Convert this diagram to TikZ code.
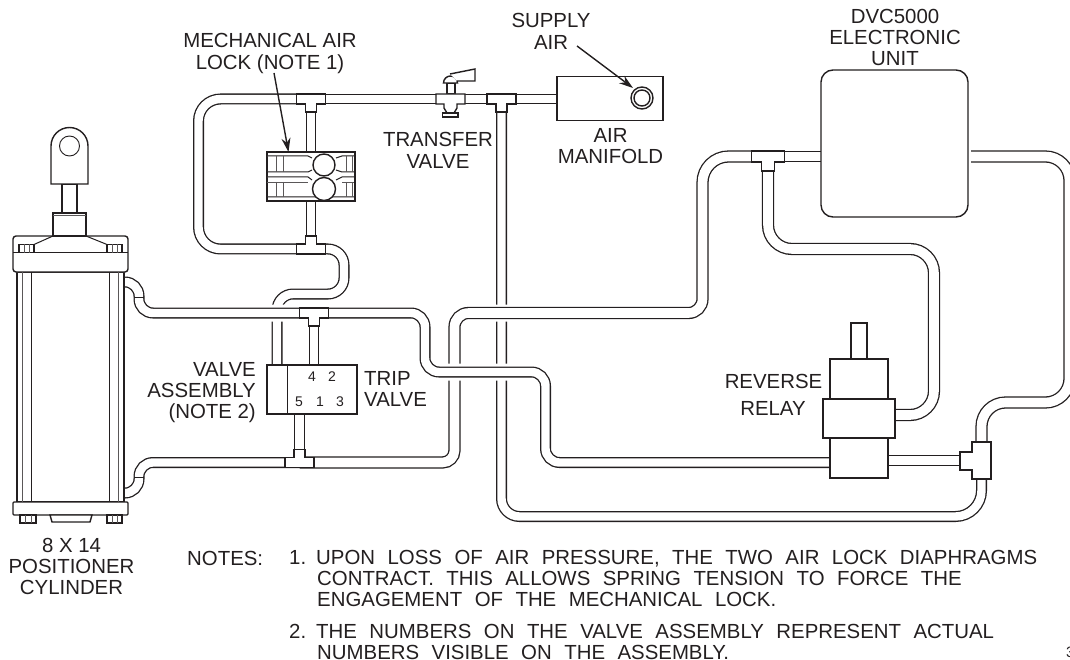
\documentclass[tikz,border=0pt]{standalone}
\usepackage{fontspec}
\setmainfont{Liberation Sans}
\newfontfamily\notefont[WordSpace=2.2]{Liberation Sans}
\usetikzlibrary{arrows.meta,positioning,calc}
\definecolor{ink}{HTML}{231F20}
\pgfdeclarelayer{fitting}
\pgfsetlayers{main,fitting}

\begin{document}
\begin{tikzpicture}[
    x=1pt, y=-1pt,
    pipe/.style={draw=ink, line width=1.3pt, double=white, double distance=8.4pt,
      preaction={draw=white, line width=17pt}},
    widepipe/.style={pipe, double distance=9.6pt},
    tube/.style={draw=ink, line width=1pt, fill=white},
    part/.style={draw=ink, line width=1.4pt, fill=white},
    thinpart/.style={draw=ink!75, line width=0.9pt},
    box/.style={part, rectangle, inner sep=0pt, outer sep=0pt},
    port/.style={part, circle, inner sep=0pt, outer sep=0pt},
    tag/.style={text=ink, align=center, inner sep=0pt, font=\fontsize{20.4}{21}\selectfont},
    notetag/.style={tag, align=left, font=\notefont\fontsize{20.4}{21}\selectfont},
    numtag/.style={tag, font=\fontsize{14}{14}\selectfont},
    pointer/.style={draw=ink, line width=1.4pt, -{Stealth[length=14pt,width=9pt]}},
    teefit/.pic={\draw[part] (-14.5,-5) -- (14.5,-5) -- (14.5,5) -- (5.5,5) -- (5.5,13)
      -- (-5.5,13) -- (-5.5,5) -- (-14.5,5) -- cycle;}
  ]
    \useasboundingbox (0,0) rectangle (1070,660);

    \coordinate (teeLockTop) at (311,99);
    \coordinate (teeLockLow) at (311,249);
    \coordinate (teeMain) at (314,313);
    \coordinate (teeReturn) at (299.5,462.5);
    \coordinate (teeTransfer) at (450.5,99);
    \coordinate (teeSupply) at (501.5,99);
    \coordinate (teeControl) at (768,156.5);
    \coordinate (teeRelay) at (981.5,460.5);
    \coordinate (portTop) at (124,282);
    \coordinate (portLow) at (124,493);
    \coordinate (portDvc) at (971,156.5);
    \coordinate (relayLeft) at (840,462.5);
    \coordinate (relayRight) at (870,460.5);
    \coordinate (lockStart) at (274,73);
    \coordinate (lockTip) at (288.5,152);
    \coordinate (supplyStart) at (577,46);
    \coordinate (supplyTip) at (633,88);

    \begin{pgfonlayer}{fitting}
    \node[box, minimum width=106pt, minimum height=44pt] (manifold) at (610,98.5) {};
    \node[port, minimum size=22pt] (supplyOuter) at (642,98) {};
    \node[port, minimum size=16pt] (supplyInner) at (642,98) {};
    \node[box, minimum width=147pt, minimum height=147pt, rounded corners=12pt] (dvc) at (894.5,143.5) {};
    \node[box, minimum width=88pt, minimum height=49pt] (airLock) at (311,176.5) {};
    \node[box, minimum width=90pt, minimum height=49pt] (valveAsm) at (312,389.5) {};

    \node[box, minimum width=72pt, minimum height=39pt] (relayMid) at (859,418.5) {};
    \node[box, minimum width=58pt, minimum height=40pt, above=0pt of relayMid] (relayTop) {};
    \node[box, minimum width=58pt, minimum height=40pt, below=0pt of relayMid] (relayLow) {};
    \node[box, minimum width=16pt, minimum height=36pt, above=0pt of relayTop] (relayRod) {};

    \node[box, minimum width=107pt, minimum height=230pt] (cylBody) at (70.5,387) {};
    \node[box, minimum width=115pt, minimum height=36pt, rounded corners=3pt] (cylHead) at (70.5,254) {};
    \node[box, minimum width=115pt, minimum height=13pt, rounded corners=1pt] (cylBase) at (70.5,508.5) {};
    \node[box, minimum width=33pt, minimum height=23pt] (cylGland) at (69.5,224.5) {};
    \node[box, minimum width=15pt, minimum height=29pt, above=0pt of cylGland] (cylRod) {};
    \node[box, minimum width=15pt, minimum height=8pt] (nutA) at (26.5,248.5) {};
    \node[box, minimum width=15pt, minimum height=8pt] (nutB) at (114.5,248.5) {};
    \node[box, minimum width=16pt, minimum height=8pt] (nutC) at (28,519) {};
    \node[box, minimum width=15pt, minimum height=8pt] (nutD) at (114.5,519) {};

    \draw[part] (51,184) -- (51,146) arc (180:0:18.5pt) -- (88,184) -- cycle;
    \node[port, line width=0.9pt, minimum size=20pt] (cylEye) at (69.5,146) {};
    \draw[thinpart] (53,215.5) -- (86,215.5);
    \draw[part, line width=1pt, fill=none] (13,253) -- (128,253);
    \draw[part, line width=1pt, fill=none] (53,236) -- (34,244.5);
    \draw[part, line width=1pt, fill=none] (86,236) -- (107,244.5);
    \draw[thinpart] (24,244.5) -- (24,253) (29,244.5) -- (29,253);
    \draw[thinpart] (112,244.5) -- (112,253) (117,244.5) -- (117,253);
    \draw[thinpart] (25,515) -- (25,523) (31,515) -- (31,523);
    \draw[thinpart] (112,515) -- (112,523) (117,515) -- (117,523);
    \draw[thinpart] (22,272) -- (22,502);
    \draw[part, line width=1pt] (31,272) -- (31,502);
    \draw[part, line width=1pt] (109,272) -- (109,502);
    \draw[thinpart] (118,272) -- (118,502);
    \draw[part] (50,515) -- (92,515) -- (90,522) -- (52,522) -- cycle;

    \draw[part, line width=1pt] (267,156) -- (308,156) -- (312,158)
      (267,172) -- (308,172) -- (312,170)
      (267,177) -- (308,177) -- (312,180)
      (267,197) -- (354,197);
    \draw[part, line width=1pt] (354,156) -- (342,156) -- (336,158)
      (354,172) -- (342,172) -- (336,170)
      (354,177) -- (342,177) -- (336,180);
    \draw[thinpart] (276,156) -- (276,172) (283,156) -- (283,172) (276,182) -- (276,197) (283,182) -- (283,197);
    \draw[thinpart] (346,156) -- (346,172) (352,156) -- (352,172) (346,182) -- (346,197) (352,182) -- (352,197);
    \draw[thinpart] (267,182) -- (308,182) (342,182) -- (354,182);
    \node[port, minimum size=22pt] (lockUpper) at (324,165) {};
    \node[port, minimum size=23pt] (lockLower) at (324,189) {};

    \draw[part, line width=1pt] (287,365) -- (287,414);

    \pic at (teeLockTop) {teefit};
    \pic[yscale=-1] at (teeLockLow) {teefit};
    \pic at (teeMain) {teefit};
    \pic[yscale=-1] at (teeReturn) {teefit};
    \pic at (teeSupply) {teefit};
    \pic[scale=1.13] at (teeControl) {teefit};
    \draw[part] (972,442) -- (991,442) -- (991,479) -- (972,479) -- (972,470) -- (960,470)
      -- (960,452) -- (972,452) -- cycle;

    \draw[part] (447,83) -- (447,94) -- (455,94) -- (455,83) -- cycle;
    \draw[part] (443.5,83) arc (180:0:7pt) -- cycle;
    \draw[part] (450,74) -- (475,69) -- (475,81) -- (457,81);
    \draw[part] (436,94) -- (465,94) -- (465,104) -- (457,104) -- (457,108) -- (454,113)
      -- (447,113) -- (444,108) -- (444,104) -- (436,104) -- cycle;
    \draw[part] (442.5,113) -- (458,113) -- (458,117) -- (442.5,117) -- cycle;

    \node[tag] (lockLabel) at (270,53.5) {MECHANICAL AIR\\[1pt]LOCK (NOTE 1)};
    \node[tag] (supplyLabel) at (551,31) {SUPPLY\\[1pt]AIR};
    \node[tag] (transferLabel) at (438,150) {TRANSFER\\[1pt]VALVE};
    \node[tag] (manifoldLabel) at (610.5,146) {AIR\\MANIFOLD};
    \node[tag] (dvcLabel) at (895,37.5) {DVC5000\\ELECTRONIC\\UNIT};
    \node[tag, align=right, anchor=east] (valveLabel) at (256,393) {VALVE\\ASSEMBLY\\(NOTE 2)};
    \node[tag, align=left, anchor=west] (tripLabel) at (364,389) {TRIP\\VALVE};
    \node[tag] (reverseLabel) at (773.5,381) {REVERSE};
    \node[tag] (relayLabel) at (773,408) {RELAY};
    \node[tag] (cylLabel) at (71.5,566) {8 X 14\\POSITIONER\\CYLINDER};
    \node[tag, anchor=west] (notesLabel) at (187,558) {NOTES:};
    \node[notetag, anchor=north west] (noteOne) at (289,550) {1.\hspace{10pt}UPON LOSS OF AIR PRESSURE, THE TWO AIR LOCK DIAPHRAGMS\\
      \hspace*{28pt}CONTRACT. THIS ALLOWS SPRING TENSION TO FORCE THE\\
      \hspace*{28pt}ENGAGEMENT OF THE MECHANICAL LOCK.};
    \node[notetag, anchor=north west] (noteTwo) at (289,624) {2.\hspace{10pt}THE NUMBERS ON THE VALVE ASSEMBLY REPRESENT ACTUAL\\
      \hspace*{28pt}NUMBERS VISIBLE ON THE ASSEMBLY.};
    \node[numtag] (valveFour) at (312,377) {4};
    \node[numtag] (valveTwo) at (332,377) {2};
    \node[numtag] (valveFive) at (299,402) {5};
    \node[numtag] (valveOne) at (320,402) {1};
    \node[numtag] (valveThree) at (340,402) {3};
    \node[tag, anchor=west, font=\fontsize{15}{15}\selectfont] (figNumber) at (1066,652) {3};

    \draw[pointer] (lockStart) -- (lockTip);
    \draw[pointer] (supplyStart) -- (supplyTip);
    \end{pgfonlayer}

    \draw[pipe, rounded corners=22pt] (teeLockTop) -- (198.5,99) -- (198.5,249) -- (teeLockLow);
    \draw[tube] ($(teeLockTop)+(0,-4.85)$) rectangle ($(teeSupply -| manifold)+(0,4.85)$);
    \draw[tube] ($(teeLockTop)+(-4.85,0)$) rectangle ($(teeLockLow)+(4.85,0)$);
    \draw[pipe, rounded corners=16pt] (teeLockLow) -- (344,249) -- (344,294) -- (277,294) -- (277,365);
    \draw[tube] ($(teeMain)+(-4.85,0)$) rectangle ($(teeMain |- valveAsm)+(4.85,0)$);
    \draw[tube] ($(teeReturn |- valveAsm)+(-4.85,0)$) rectangle ($(teeReturn)+(4.85,0)$);
    \draw[pipe, rounded corners=14pt] (portLow) -- (139,493) -- (139,462.5) -- (teeReturn);

    \draw[pipe] (teeSupply) [rounded corners=18pt] -- (501.5,516.5) [rounded corners=26pt] -- (981.5,516.5) -- (teeRelay);
    \draw[widepipe, rounded corners=24pt] (portDvc) -- (1069.5,156.5) -- (1069.5,402.5) -- (981.5,402.5) -- (teeRelay);
    \draw[tube] ($(relayRight)+(0,-5.45)$) rectangle ($(teeRelay)+(0,5.45)$);

    \draw[tube] ($(teeControl)+(0,-5.45)$) rectangle ($(teeControl -| dvc)+(0,5.45)$);
    \draw[widepipe, rounded corners=24pt] (teeControl) -- (768,249) -- (934,249) -- (934,415) -- (relayMid.center |- 0,415);
    \draw[widepipe] (teeControl) [rounded corners=26pt] -- (702.5,156.5) [rounded corners=14pt] -- (702.5,313) -- (454.5,313)
      [rounded corners=12pt] -- (454.5,462.5) -- (teeReturn);

    \draw[pipe, rounded corners=14pt] (portTop) -- (139,282) -- (139,313) -- (teeMain);
    \draw[pipe, rounded corners=14pt] (teeMain) -- (425,313) -- (425,372) -- (545.5,372) -- (545.5,462.5) -- (relayLeft);

    \begin{pgfonlayer}{fitting}
    \draw[part, line width=1pt] (134,297) -- (144,297);
    \draw[part, line width=1pt] (134,477) -- (144,477);
    \end{pgfonlayer}
  \end{tikzpicture}
\end{document}
